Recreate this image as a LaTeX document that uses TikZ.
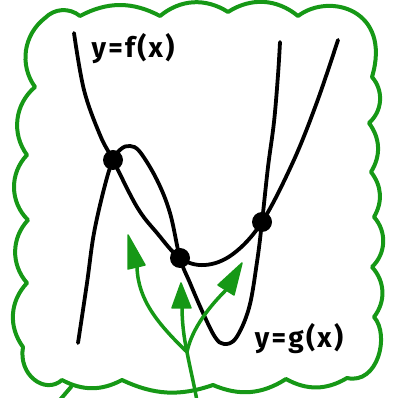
\documentclass[tikz,border=0pt]{standalone}
\usepackage{fontspec}
\newfontfamily\hand[LetterSpace=8]{Fira Sans}
\definecolor{cgreen}{RGB}{22,152,22}
\begin{document}
\begin{tikzpicture}[x=1pt,y=1pt,
  cloud/.style={draw=cgreen, line width=4pt, line join=round, line cap=round},
  curve/.style={draw=black, line width=3.8pt, line cap=round, line join=round},
  stem/.style={draw=cgreen, line width=3.5pt, line cap=round},
  head/.style={fill=cgreen, draw=cgreen, line width=1.5pt, line join=round},
  dot/.style={circle, fill=black, inner sep=0pt, minimum size=20pt},
  lbl/.style={font=\hand\bfseries\fontsize{28}{28}\selectfont, inner sep=0pt}]
\useasboundingbox (0,0) rectangle (394,398);
% cloud outline
\draw[cloud] (45,380) to[bend left=42] (80,382) to[bend left=28] (160,382)
  to[bend left=36] (228,386) to[bend left=36] (298,382)
  .. controls (330,406) and (392,388) .. (372,321)
  to[bend left=45] (369,275) to[bend left=34] (371,226) to[bend left=34] (374,181)
  to[bend left=44] (372,131) to[bend left=40] (374,81)
  .. controls (390,63) and (378,13) .. (347,20)
  to[bend left=30] (286,19) to[bend left=28] (213,13) to[bend left=22] (122,18)
  to[bend left=28] (62,18)
  .. controls (45,3) and (18,23) .. (23,51)
  to[bend left=40] (27,115) to[bend left=42] (28,178) to[bend left=45] (27,243)
  to[bend left=43] (35,311) to[bend left=44] (45,380) -- cycle;
\coordinate (tailA) at (71,11);
\coordinate (tailB) at (59,-3);
\draw[cloud] (tailA) -- (tailB);
% f
\draw[curve] plot[smooth, tension=0.6] coordinates {(74,365) (84,308) (100,263) (113,238) (137,191) (157,165) (180,140) (205,133) (233,144) (262,176) (293,236) (317,296) (338,358)};
% g
\draw[curve] plot[smooth, tension=0.6] coordinates {(78,55) (87,115) (94,165) (105,213) (113,238) (121,249) (130,252) (140,246) (157,218) (170,185) (180,140) (190,115) (203,85) (215,61) (224,54) (236,60) (249,90) (257,136) (262,176) (268,231) (274,276) (278,323) (280,356)};
% intersection dots
\node[dot] (p1) at (113,238) {};
\node[dot] (p2) at (180,140) {};
\node[dot] (p3) at (262,176) {};
% arrows
\coordinate (base) at (197,-3);
\coordinate (fork) at (187,46);
\coordinate (lend) at (137,131);
\coordinate (mend) at (182,92);
\coordinate (rend) at (226,108);
\draw[stem] (base) .. controls (194,14) and (190,30) .. (fork);
\draw[stem] (fork) .. controls (158,74) and (138,98) .. (lend);
\draw[stem] (fork) .. controls (184,60) and (182,75) .. (mend);
\draw[stem] (fork) .. controls (192,70) and (210,92) .. (rend);
\filldraw[head] (128,163) -- (128,129) -- (145,133) -- cycle;
\filldraw[head] (181,115) -- (172,90) -- (191,90) -- cycle;
\filldraw[head] (242,135) -- (218,113) -- (234,103) -- cycle;
% labels
\node[lbl] (lf) at (133,349) {y=f(x)};
\node[lbl] (lg) at (299,59) {y=g(x)};
\end{tikzpicture}
\end{document}
